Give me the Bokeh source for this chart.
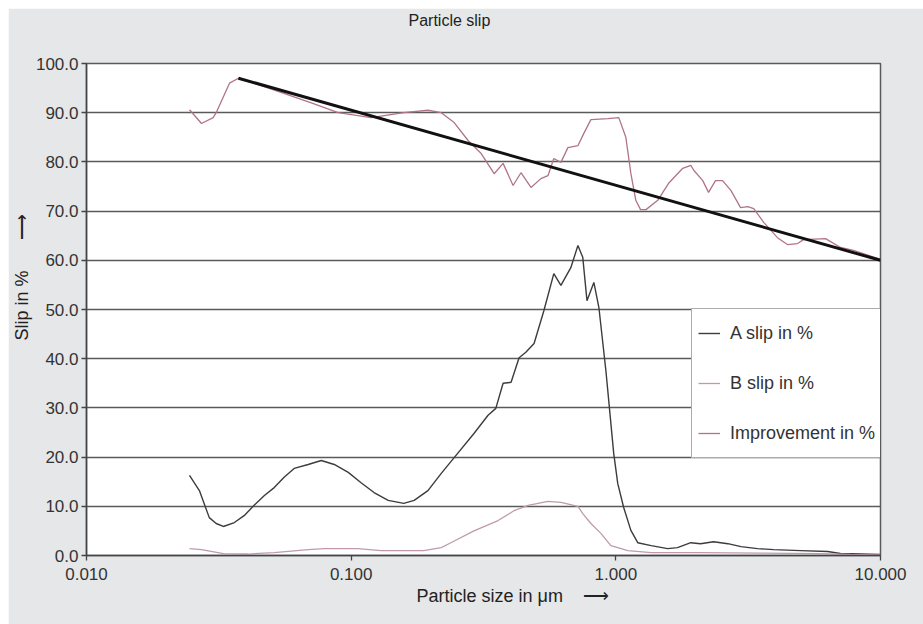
from bokeh.plotting import figure
from bokeh.models import (Range1d, FixedTicker, NumeralTickFormatter, Title,
                          Legend, LegendItem)
from bokeh.embed import file_html
from bokeh.resources import INLINE

# ---------------- data ----------------
a_x = [0.0245, 0.0267, 0.0291, 0.0309, 0.0329, 0.0362, 0.0394, 0.0430, 0.0470, 0.0512,
       0.0558, 0.0609, 0.0688, 0.0771, 0.0863, 0.0975, 0.109, 0.122, 0.138, 0.158,
       0.173, 0.195, 0.219, 0.245, 0.291, 0.329, 0.352, 0.375, 0.402, 0.431,
       0.457, 0.491, 0.535, 0.583, 0.620, 0.676, 0.719, 0.750, 0.778, 0.826,
       0.863, 0.917, 0.982, 1.017, 1.07, 1.14, 1.21, 1.36, 1.57, 1.71,
       1.92, 2.09, 2.34, 2.65, 2.97, 3.43, 3.95, 4.99, 6.31, 7.06, 8.41, 10.0]
a_y = [16.3, 13.2, 7.7, 6.5, 5.9, 6.7, 8.1, 10.2, 12.2, 13.8,
       15.9, 17.7, 18.5, 19.3, 18.5, 16.9, 14.8, 12.8, 11.2, 10.6,
       11.2, 13.2, 16.7, 19.9, 24.8, 28.5, 29.9, 35.0, 35.2, 40.2,
       41.3, 43.1, 49.8, 57.3, 54.9, 58.5, 63.0, 60.6, 51.8, 55.5,
       50.4, 37.6, 20.7, 14.6, 9.8, 5.1, 2.6, 2.0, 1.4, 1.6,
       2.6, 2.4, 2.8, 2.4, 1.8, 1.4, 1.2, 1.0, 0.8, 0.4, 0.3, 0.2]

b_x = [0.0245, 0.0272, 0.0329, 0.0408, 0.0512, 0.0688, 0.0791, 0.106, 0.130, 0.188,
       0.219, 0.238, 0.291, 0.359, 0.412, 0.466, 0.554, 0.620, 0.719, 0.750,
       0.805, 0.878, 0.958, 1.11, 1.36, 2.09, 3.53, 5.94, 7.71, 10.0]
b_y = [1.4, 1.2, 0.4, 0.3, 0.6, 1.2, 1.4, 1.4, 1.0, 1.0,
       1.6, 2.6, 5.0, 7.1, 9.1, 10.2, 11.0, 10.8, 10.0, 8.5,
       6.5, 4.5, 2.0, 1.0, 0.6, 0.6, 0.5, 0.4, 0.2, 0.1]

imp_x = [0.0245, 0.0272, 0.0301, 0.0309, 0.0347, 0.0375, 0.050, 0.0707, 0.0893, 0.119,
         0.158, 0.195, 0.219, 0.245, 0.277, 0.310, 0.347, 0.375, 0.409, 0.438,
         0.478, 0.521, 0.554, 0.583, 0.620, 0.659, 0.719, 0.757, 0.805, 0.934,
         1.026, 1.091, 1.14, 1.19, 1.24, 1.30, 1.44, 1.58, 1.79, 1.92,
         1.97, 2.13, 2.24, 2.38, 2.53, 2.72, 2.96, 3.15, 3.32, 3.62,
         4.08, 4.45, 4.86, 5.12, 6.20, 7.06, 7.91, 10.0]
imp_y = [90.6, 87.8, 89.0, 90.0, 96.0, 97.0, 94.8, 92.0, 90.0, 89.0,
         90.0, 90.5, 90.0, 88.0, 84.3, 81.7, 77.6, 79.7, 75.2, 77.8,
         74.8, 76.6, 77.2, 80.7, 79.9, 82.9, 83.3, 85.8, 88.6, 88.8,
         89.0, 85.0, 77.6, 72.2, 70.3, 70.3, 72.2, 75.6, 78.7, 79.3,
         78.3, 76.2, 73.8, 76.2, 76.2, 74.2, 70.7, 70.9, 70.5, 67.7,
         64.6, 63.2, 63.4, 64.2, 64.4, 62.6, 62.0, 60.2]

trend_x = [0.0375, 10.0]
trend_y = [97.0, 60.0]

x_ticks = [0.01, 0.1, 1.0, 10.0]
y_ticks = [0, 10, 20, 30, 40, 50, 60, 70, 80, 90, 100]

NB = "\u00a0"
title_text = "Particle slip"
x_label = "Particle size in \u03bcm" + NB * 3 + " \u27f6"
y_label = "Slip in %" + NB * 5 + " \u27f6"
series_names = ["A slip in %", "B slip in %", "Improvement in %"]

# ---------------- styling ----------------
FONT = "Liberation Sans"
TXT = "#333333"
GRID = "#5a5a5a"

p = figure(width=915, height=616, x_axis_type="log",
           x_range=Range1d(0.01, 10.0), y_range=Range1d(0, 100),
           min_border_left=77, min_border_right=43, min_border_top=55, min_border_bottom=69,
           output_backend="svg", toolbar_location=None,
           background_fill_color="white", border_fill_color="#e6e7e8")
p.margin = (8, 0, 0, 8)

# real title is the outermost panel; a blank title keeps it away from the frame
p.title = Title(text=title_text, align="left", offset=322, standoff=0,
                text_font=FONT, text_font_size="16px", text_font_style="normal",
                text_color="#222222")
p.add_layout(Title(text=" ", text_font_size="30px", standoff=0, offset=0), "above")

p.outline_line_color = GRID
p.outline_line_width = 1.5

p.xgrid.visible = False
p.ygrid.ticker = FixedTicker(ticks=y_ticks)
p.ygrid.grid_line_color = GRID
p.ygrid.grid_line_width = 1.6

p.yaxis.ticker = FixedTicker(ticks=y_ticks)
p.yaxis.formatter = NumeralTickFormatter(format="0.0")
p.xaxis.ticker = FixedTicker(ticks=x_ticks)
p.xaxis.formatter = NumeralTickFormatter(format="0.000")
for ax in (p.xaxis, p.yaxis):
    ax.axis_line_color = "#444444"
    ax.axis_line_width = 1.5
    ax.major_tick_line_color = "#444444"
    ax.major_tick_line_width = 1.3
    ax.major_tick_in = 0
    ax.major_tick_out = 5
    ax.minor_tick_line_color = None
    ax.major_label_text_font = FONT
    ax.major_label_text_font_size = "17px"
    ax.major_label_text_color = TXT
p.yaxis.major_label_standoff = 3
p.xaxis.major_label_standoff = 7

r_a = p.line(a_x, a_y, line_color="#3c3c3c", line_width=1.4)
r_b = p.line(b_x, b_y, line_color="#c09aab", line_width=1.3)
r_i = p.line(imp_x, imp_y, line_color="#b07585", line_width=1.3)
p.line(trend_x, trend_y, line_color="#111111", line_width=3)

legend = Legend(items=[LegendItem(label=series_names[0], renderers=[r_a]),
                       LegendItem(label=series_names[1], renderers=[r_b]),
                       LegendItem(label=series_names[2], renderers=[r_i])],
                location=(605, 97), margin=0, padding=6, spacing=14,
                glyph_width=22, glyph_height=36, label_height=36, label_standoff=10,
                border_line_color=GRID, border_line_width=1.5,
                background_fill_color="white", background_fill_alpha=1.0,
                label_text_font=FONT, label_text_font_size="18px", label_text_color=TXT)
p.add_layout(legend, "center")

p.add_layout(Title(text=x_label, align="left", offset=330, standoff=2,
                   text_font=FONT, text_font_size="18px", text_font_style="normal",
                   text_color="#222222"), "below")
p.add_layout(Title(text=y_label, align="left", offset=215, standoff=2,
                   text_font=FONT, text_font_size="18px", text_font_style="normal",
                   text_color="#222222"), "left")

open("out.html", "w").write(file_html(p, INLINE))
